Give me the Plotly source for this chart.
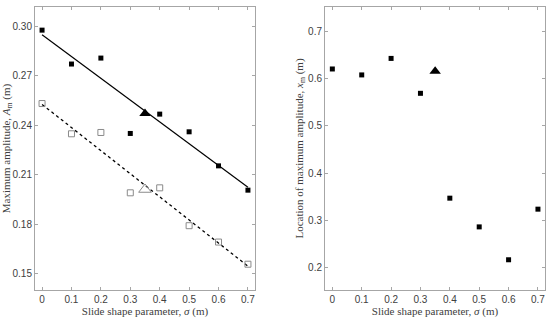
import numpy as np
import plotly.graph_objects as go

sigma = [0.0, 0.1, 0.2, 0.3, 0.4, 0.5, 0.6, 0.7]
amp_filled = [0.2975, 0.2770, 0.2806, 0.2350, 0.2467, 0.2360, 0.2154, 0.2007]
amp_open = [0.2531, 0.2348, 0.2356, 0.1991, 0.2021, 0.1792, 0.1693, 0.1559]
tri_sigma = [0.35]
tri_amp_filled = [0.2471]
tri_amp_open = [0.2011]
loc_filled = [0.6206, 0.6080, 0.6430, 0.5690, 0.3467, 0.2858, 0.2161, 0.3234]
tri_loc = [0.6160]

x_ticks = [0, 0.1, 0.2, 0.3, 0.4, 0.5, 0.6, 0.7]
x_tick_labels = ["0", "0.1", "0.2", "0.3", "0.4", "0.5", "0.6", "0.7"]
amp_ticks = [0.15, 0.18, 0.21, 0.24, 0.27, 0.30]
amp_tick_labels = ["0.15", "0.18", "0.21", "0.24", "0.27", "0.30"]
loc_ticks = [0.2, 0.3, 0.4, 0.5, 0.6, 0.7]
loc_tick_labels = ["0.2", "0.3", "0.4", "0.5", "0.6", "0.7"]

fit_x = [0.0, 0.7]
p1 = np.polyfit(sigma, amp_filled, 1)
p2 = np.polyfit(sigma, amp_open, 1)
fit_filled = list(np.polyval(p1, fit_x))
fit_open = list(np.polyval(p2, fit_x))

W, H = 550, 320
fig = go.Figure()

fig.add_trace(go.Scatter(x=fit_x, y=fit_filled, mode="lines",
                         line=dict(color="black", width=1.2), xaxis="x", yaxis="y"))
fig.add_trace(go.Scatter(x=fit_x, y=fit_open, mode="lines",
                         line=dict(color="black", width=1.3, dash="dot"), xaxis="x", yaxis="y"))
fig.add_trace(go.Scatter(x=sigma, y=amp_filled, mode="markers",
                         marker=dict(symbol="square", size=5, color="black"), xaxis="x", yaxis="y"))
fig.add_trace(go.Scatter(x=sigma, y=amp_open, mode="markers",
                         marker=dict(symbol="square-open", size=6, color="#8a8a8a", line=dict(width=1)),
                         xaxis="x", yaxis="y"))
fig.add_trace(go.Scatter(x=tri_sigma, y=tri_amp_filled, mode="markers",
                         marker=dict(symbol="triangle-up", size=10, color="black"), xaxis="x", yaxis="y"))
fig.add_trace(go.Scatter(x=tri_sigma, y=tri_amp_open, mode="markers",
                         marker=dict(symbol="triangle-up-open", size=11, color="#8a8a8a", line=dict(width=1)),
                         xaxis="x", yaxis="y"))

fig.add_trace(go.Scatter(x=sigma, y=loc_filled, mode="markers",
                         marker=dict(symbol="square", size=5, color="black"), xaxis="x2", yaxis="y2"))
fig.add_trace(go.Scatter(x=tri_sigma, y=tri_loc, mode="markers",
                         marker=dict(symbol="triangle-up", size=10, color="black"), xaxis="x2", yaxis="y2"))

tick_font = dict(family="Liberation Sans, Arial, sans-serif", size=10, color="#404040")
title_font = dict(family="Liberation Serif, DejaVu Serif, serif", size=11, color="#404040")

axis_common = dict(showgrid=False, zeroline=False, showline=True, linecolor="#a6a6a6",
                   linewidth=1, mirror="ticks", ticks="inside", ticklen=3,
                   tickcolor="#a6a6a6", tickfont=tick_font, automargin=False)

xt = "Slide shape parameter, <i>σ</i> (m)"

fig.update_layout(
    width=W, height=H, showlegend=False, autosize=False,
    paper_bgcolor="white", plot_bgcolor="white",
    margin=dict(l=0, r=0, t=7, b=30, pad=0),
    xaxis=dict(domain=[35 / W, 255 / W], range=[-0.024, 0.724],
               tickvals=x_ticks, ticktext=x_tick_labels,
               title=dict(text=xt, font=title_font, standoff=0), anchor="y", **axis_common),
    yaxis=dict(domain=[0, 1], range=[0.1403, 0.3115],
               tickvals=amp_ticks, ticktext=amp_tick_labels,
               title=dict(text="Maximum amplitude, <i>A</i><sub>m</sub> (m)", font=title_font, standoff=2),
               anchor="x", **axis_common),
    xaxis2=dict(domain=[325 / W, 545 / W], range=[-0.025, 0.724],
                tickvals=x_ticks, ticktext=x_tick_labels,
                title=dict(text=xt, font=title_font, standoff=0), anchor="y2", **axis_common),
    yaxis2=dict(domain=[0, 1], range=[0.152, 0.752],
                tickvals=loc_ticks, ticktext=loc_tick_labels,
                title=dict(text="Location of maximum amplitude, <i>x</i><sub>m</sub> (m)", font=title_font, standoff=2),
                anchor="x2", **axis_common),
)

fig.write_html("out.html", config={"displayModeBar": False},
               post_script="document.body.style.margin='0';document.body.style.padding='0';")
